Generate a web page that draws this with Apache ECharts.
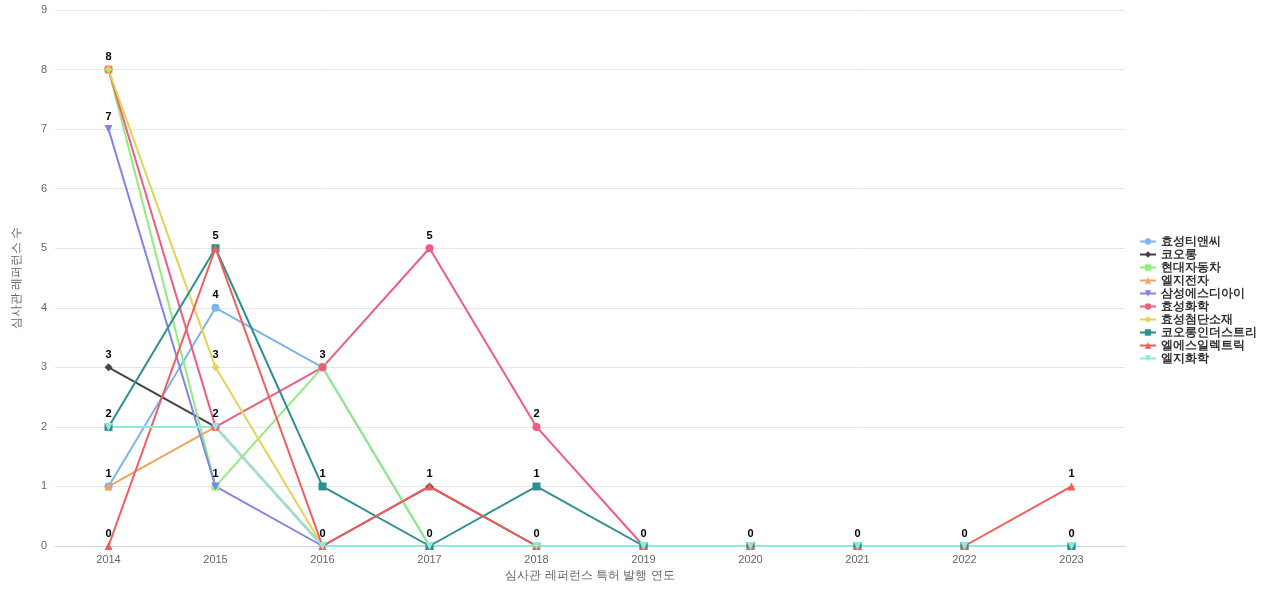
<!DOCTYPE html><html><head><meta charset="utf-8"><script src="https://cdn.jsdelivr.net/npm/echarts@6/dist/echarts.min.js"></script></head><body style="margin:0"><div id="c" style="width:1280px;height:600px"></div><script>
const years=['2014','2015','2016','2017','2018','2019','2020','2021','2022','2023'];
const names=['효성티앤씨','코오롱','현대자동차','엘지전자','삼성에스디아이','효성화학','효성첨단소재','코오롱인더스트리','엘에스일렉트릭','엘지화학'];
const colors=['#7cb5ec','#434348','#90ed7d','#f7a35c','#8085e9','#f15c80','#e4d354','#2b908f','#f45b5b','#91e8e1'];
const symbols=['circle','diamond','rect','triangle','path://M0,0L10,0L5,10Z','circle','diamond','rect','triangle','path://M0,0L10,0L5,10Z'];
const v0=[1,4,3,0,0,0,0,0,0,0];
const v1=[3,2,0,1,0,0,0,0,0,0];
const v2=[8,1,3,0,0,0,0,0,0,0];
const v3=[1,2,0,0,0,0,0,0,0,0];
const v4=[7,1,0,0,0,0,0,0,0,0];
const v5=[8,2,3,5,2,0,0,0,0,0];
const v6=[8,3,0,0,0,0,0,0,0,0];
const v7=[2,5,1,0,1,0,0,0,0,0];
const v8=[0,5,0,1,0,0,0,0,0,1];
const v9=[2,2,0,0,0,0,0,0,0,0];
const vals=[v0,v1,v2,v3,v4,v5,v6,v7,v8,v9];
const ch=echarts.init(document.getElementById('c'));
ch.setOption({
 color:colors,
 grid:{left:55,right:155,top:10,bottom:54},
 legend:{orient:'vertical',right:18,top:'middle',itemWidth:16,itemHeight:8,itemGap:1,textStyle:{fontWeight:'bold',fontSize:12,color:'#333'}},
 xAxis:{type:'category',data:years,boundaryGap:true,name:'심사관 레퍼런스 특허 발행 연도',nameLocation:'middle',nameGap:24,nameTextStyle:{color:'#666'},axisLine:{lineStyle:{color:'#ccd6eb'}},axisTick:{show:false},axisLabel:{color:'#666',fontSize:11}},
 yAxis:{type:'value',min:0,max:9,interval:1,name:'심사관 레퍼런스 수',nameLocation:'middle',nameGap:32,nameTextStyle:{color:'#666'},axisLabel:{color:'#666',fontSize:11},splitLine:{lineStyle:{color:'#e6e6e6'}}},
 series:names.map((n,i)=>({name:n,type:'line',data:vals[i],symbol:symbols[i],symbolSize:8,lineStyle:{width:2},label:{show:true,position:'top',fontWeight:'bold',fontSize:11,color:'#000',distance:3},labelLayout:{hideOverlap:true}}))
});
</script></body></html>
